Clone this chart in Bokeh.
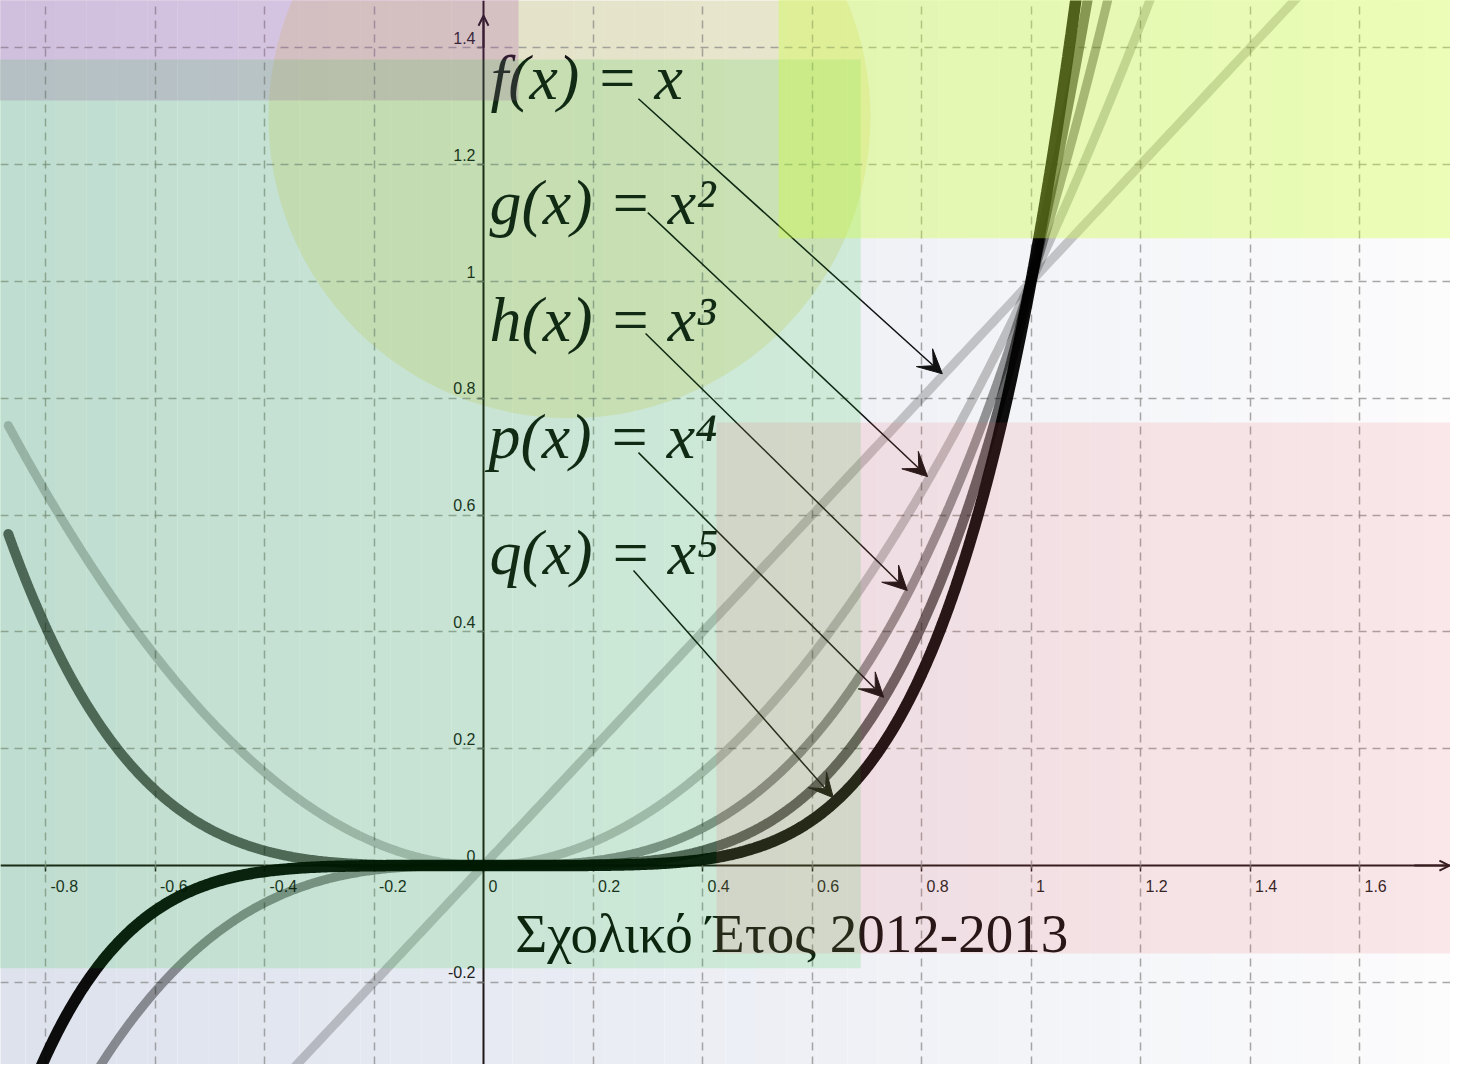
import numpy as np
from bokeh.plotting import figure
from bokeh.models import Range1d, FixedTicker, CustomJSTickFormatter, Arrow, VeeHead, OpenHead
from bokeh.core.properties import value
from bokeh.embed import file_html
from bokeh.resources import INLINE

# ---------------- data ----------------
x_tick_vals = [-0.8, -0.6, -0.4, -0.2, 0.0, 0.2, 0.4, 0.6, 0.8, 1.0, 1.2, 1.4, 1.6]
x_tick_labels = ["-0.8", "-0.6", "-0.4", "-0.2", "0", "0.2", "0.4", "0.6", "0.8", "1", "1.2", "1.4", "1.6"]
y_tick_vals = [-0.2, 0.0, 0.2, 0.4, 0.6, 0.8, 1.0, 1.2, 1.4]
y_tick_labels = ["-0.2", "0", "0.2", "0.4", "0.6", "0.8", "1", "1.2", "1.4"]

exponents = [1, 2, 3, 4, 5]
func_labels = ["f(x) = x", "g(x) = x²", "h(x) = x³", "p(x) = x⁴", "q(x) = x⁵"]
label_x = [0.0128, 0.0110, 0.0110, 0.0090, 0.0110]
label_y = [1.349, 1.135, 0.935, 0.735, 0.536]

arrow_start_x = [0.283, 0.300, 0.296, 0.283, 0.274]
arrow_start_y = [1.313, 1.118, 0.911, 0.707, 0.505]
arrow_end_x = [0.838, 0.811, 0.774, 0.731, 0.639]
arrow_end_y = [0.842, 0.666, 0.471, 0.288, 0.116]

title_text = "Σχολικό Έτος 2012-2013"
title_x = 0.058
title_y = -0.1164

# background shapes (data coordinates)
rect_left = [-1.0, -1.0, 0.539, 0.4256]
rect_right = [0.064, 0.689, 2.0, 2.0]
rect_bottom = [1.310, -0.176, 1.074, -0.1507]
rect_top = [2.0, 1.380, 2.0, 0.7586]
rect_colors = ["#a03ca5", "#00be14", "#ccff33", "#f0505a"]
rect_alphas = [0.20, 0.13, 0.35, 0.12]
circle_x = [0.157]
circle_y = [1.281]

# ---------------- figure ----------------
X0 = -0.8822
X1 = X0 + 1450 / 547.5
Y1 = 1.4812
Y0 = Y1 - 1064 / 584.0
p = figure(width=1450, height=1064, x_range=Range1d(X0, X1), y_range=Range1d(Y0, Y1),
           output_backend="svg", toolbar_location=None, min_border=0)
p.outline_line_color = None
p.background_fill_color = "#ffffff"
p.border_fill_color = "#ffffff"

# background gradient strips
n_strips = 48
edges = np.linspace(X0 - 0.01, X1 + 0.01, n_strips + 1)
c_left = np.array([221, 226, 237])
c_right = np.array([252, 252, 253])
strip_cols = []
for i in range(n_strips):
    t = i / (n_strips - 1)
    c = (c_left * (1 - t) + c_right * t).astype(int)
    strip_cols.append("#%02x%02x%02x" % tuple(c))
p.quad(left=edges[:-1], right=edges[1:], bottom=Y0 - 1, top=Y1 + 1,
       fill_color=strip_cols, line_color=None, level="image")

# circle
p.circle(x=circle_x, y=circle_y, radius=301, radius_units="screen",
         fill_color="#dad26e", fill_alpha=0.30, line_color=None, level="image")

# axes
AX = "#1e1616"
for ax in (p.xaxis, p.yaxis):
    ax.fixed_location = 0
    ax.axis_line_width = 2
    ax.axis_line_color = AX
    ax.major_tick_line_color = AX
    ax.major_tick_line_width = 1.5
    ax.major_tick_in = 0
    ax.major_tick_out = 6
    ax.minor_tick_line_color = None
    ax.formatter = CustomJSTickFormatter(code="return ''")
    ax.level = "underlay"
p.xaxis.ticker = FixedTicker(ticks=x_tick_vals)
p.yaxis.ticker = FixedTicker(ticks=y_tick_vals)

p.xgrid.ticker = FixedTicker(ticks=[v for v in x_tick_vals if v != 0])
p.ygrid.ticker = FixedTicker(ticks=[v for v in y_tick_vals if v != 0])
for g in (p.xgrid, p.ygrid):
    g.grid_line_color = "#8a8a8a"
    g.grid_line_alpha = 0.75
    g.grid_line_width = 1.5
    g.grid_line_dash = "8 6"

# axis arrows
p.add_layout(Arrow(end=OpenHead(size=10, line_width=2, line_color=AX),
                   x_start=1.70, y_start=0, x_end=X1 - 0.002, y_end=0,
                   line_width=2, line_color=AX))
p.add_layout(Arrow(end=OpenHead(size=10, line_width=2, line_color=AX),
                   x_start=0, y_start=1.40, x_end=0, y_end=1.455,
                   line_width=2, line_color=AX))

# tick labels
p.text(x=x_tick_vals, y=[0] * len(x_tick_vals), text=x_tick_labels,
       x_offset=5, y_offset=14, text_align="left", text_baseline="top",
       text_font=value("Liberation Sans"), text_font_size="16px", text_color="#1e1e1e")
p.text(x=[0] * len(y_tick_vals), y=y_tick_vals, text=y_tick_labels,
       x_offset=-8, y_offset=-4, text_align="right", text_baseline="bottom",
       text_font=value("Liberation Sans"), text_font_size="16px", text_color="#1e1e1e")

# curves
xs = np.linspace(-0.868, 1.5, 800)
curve_alphas = [0.20, 0.22, 0.40, 0.60, 0.95]
curve_widths = [9, 9, 9, 10, 11.5]
for n, a, w in zip(exponents, curve_alphas, curve_widths):
    p.line(xs, xs ** n, line_color="#000000", line_alpha=a, line_width=w, line_cap="round")

# function labels
p.text(x=label_x, y=label_y, text=func_labels, text_font=value("Liberation Serif"),
       text_font_style="italic", text_font_size="64px", text_color="#141414",
       text_baseline="alphabetic", text_align="left")

# arrows from labels to curves
for sx, sy, ex, ey in zip(arrow_start_x, arrow_start_y, arrow_end_x, arrow_end_y):
    p.add_layout(Arrow(end=VeeHead(size=24, fill_color="#111111", line_color="#111111", line_width=1),
                       x_start=sx, y_start=sy, x_end=ex, y_end=ey,
                       line_width=1.5, line_color="#111111"))

# title text
p.text(x=[title_x], y=[title_y], text=[title_text], text_font=value("Liberation Serif"),
       text_font_size="55px", text_color="#0e0e0e", text_baseline="alphabetic", text_align="left")

# translucent overlay rectangles
p.quad(left=rect_left, right=rect_right, bottom=rect_bottom, top=rect_top,
       fill_color=rect_colors, fill_alpha=rect_alphas, line_color=None, level="overlay")

open("out.html", "w").write(file_html(p, INLINE))
